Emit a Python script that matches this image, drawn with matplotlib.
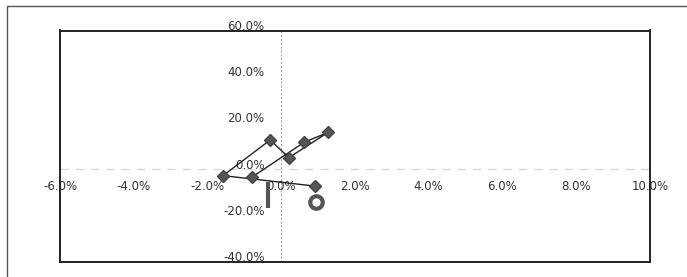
"""
Scatter path chart on a percentage grid
"""
import matplotlib
matplotlib.use("Agg")
import matplotlib.pyplot as plt
from matplotlib.lines import Line2D

# path of points (x %, y %), in drawing order
path_x = [-0.78, 0.62, 1.27, 0.21, -0.30, -1.58, 0.91]
path_y = [-3.2, 11.7, 16.0, 5.1, 12.7, -2.7, -7.2]

# ring marker
ring_x = [0.95]
ring_y = [-14.0]

# thick vertical bar
bar_x = [-0.36]
bar_low = [-16.8]
bar_high = [-5.3]

# axis ticks
x_ticks = [-6, -4, -2, 0, 2, 4, 6, 8, 10]
y_ticks = [-40, -20, 0, 20, 40, 60]

fig = plt.figure(figsize=(6.87, 2.77), dpi=100)
ax = fig.add_axes([60 / 687, 1 - 262 / 277, 590 / 687, 231.5 / 277])

ax.set_xlim(-6, 10)
ax.set_ylim(-40, 60)
ax.set_xticks([])
ax.set_yticks([])
for s in ax.spines.values():
    s.set_linewidth(1.4)
    s.set_color("#222222")

# zero lines
ax.axhline(0, color="#d8d8d8", lw=1, ls=(0, (6, 5)), zorder=1)
ax.axvline(0, color="#999999", lw=0.7, ls=(0, (2, 2)), zorder=1)

# tick labels placed along the zero lines
for t in x_ticks:
    ax.annotate(f"{t:.1f}%", xy=(t, 0), xytext=(0, -12.5),
                textcoords="offset points", ha="center", va="center",
                fontsize=8.5, color="#333333", annotation_clip=False,
                zorder=2)
for t in y_ticks:
    ax.annotate(f"{t:.1f}%", xy=(0, t), xytext=(-12, 3),
                textcoords="offset points", ha="right", va="center",
                fontsize=8.5, color="#333333", annotation_clip=False,
                zorder=2)

# data
ax.plot(path_x, path_y, color="#222222", lw=1.0, marker="D",
        markersize=6.5, markerfacecolor="#555555",
        markeredgecolor="#444444", zorder=4)
ax.vlines(bar_x, bar_low, bar_high, color="#555555", lw=3, zorder=3)
ax.plot(ring_x, ring_y, ls="none", marker="o", markersize=9,
        markerfacecolor="white", markeredgecolor="#555555",
        markeredgewidth=3, zorder=4)

# outer frame (top and left edges only)
fig.add_artist(Line2D([7 / 687, 7 / 687, 1], [0, 1 - 6 / 277, 1 - 6 / 277],
                      transform=fig.transFigure, color="#555555", lw=1))

fig.savefig("out.png", dpi=100)
